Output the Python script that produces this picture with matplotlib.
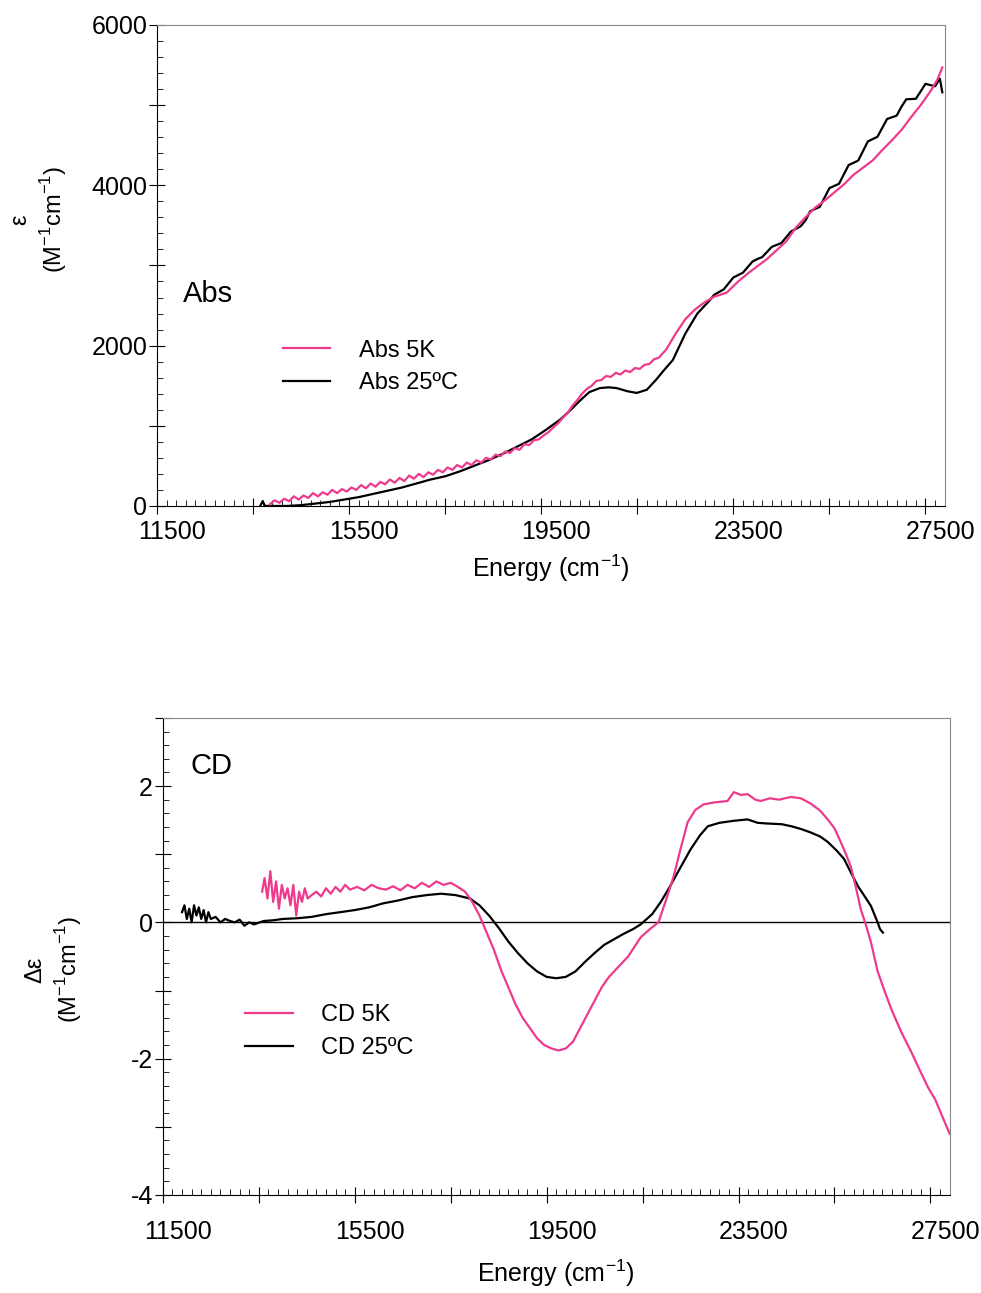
import numpy as np
import matplotlib
matplotlib.use("Agg")
from matplotlib import pyplot as plt
from matplotlib.ticker import FixedLocator, MultipleLocator, FuncFormatter
from matplotlib.transforms import ScaledTranslation

plt.rcParams['font.family'] = ['Liberation Sans', 'DejaVu Sans']

PINK = '#ee3a8c'

# ---- Abs data (energy in cm-1, epsilon in M-1cm-1) ----
abs5k_x = [13850, 13950, 14050, 14150, 14250, 14350, 14450, 14550, 14650, 14750,
           14850, 14950, 15050, 15150, 15250, 15350, 15450, 15550, 15650, 15750,
           15850, 15950, 16050, 16150, 16250, 16350, 16450, 16550, 16650, 16750,
           16850, 16950, 17050, 17150, 17250, 17350, 17450, 17550, 17650, 17750,
           17850, 17950, 18050, 18150, 18250, 18350, 18450, 18550, 18650, 18750,
           18850, 18950, 19050, 19150, 19250, 19350, 19450, 19550, 19650, 19750,
           19850, 19950, 20050, 20150, 20250, 20350, 20450, 20550, 20650, 20750,
           20850, 20950, 21050, 21150, 21250, 21350, 21450, 21550, 21650, 21750,
           21850, 21950, 22100, 22300, 22500, 22700, 22900, 23100, 23360, 23600,
           23800, 24000, 24200, 24400, 24600, 24800, 25000, 25200, 25400, 25600,
           25800, 26000, 26200, 26400, 26600, 26800, 27000, 27200, 27400, 27600,
           27750, 27850]
abs5k_y = [20, 70, 40, 90, 60, 120, 80, 130, 100, 160,
           120, 170, 140, 200, 160, 210, 180, 230, 200, 260,
           220, 280, 240, 300, 270, 330, 290, 350, 310, 380,
           340, 400, 360, 420, 390, 450, 420, 480, 450, 510,
           480, 540, 510, 570, 540, 600, 580, 640, 620, 680,
           660, 720, 700, 770, 760, 820, 830, 880, 920, 980,
           1030, 1100, 1160, 1250, 1320, 1400, 1460, 1500, 1560, 1570,
           1620, 1610, 1660, 1640, 1690, 1670, 1720, 1710, 1760, 1770,
           1830, 1850, 1950, 2150, 2330, 2450, 2540, 2610, 2660, 2800,
           2900, 2990, 3080, 3190, 3300, 3470, 3600, 3720, 3810, 3910,
           4010, 4130, 4220, 4310, 4440, 4560, 4690, 4850, 5000, 5170,
           5320, 5470]

abs25_x = [13650, 13700, 13750, 13900, 14200, 14500, 14800, 15100, 15400, 15700,
           16000, 16300, 16600, 16900, 17200, 17500, 17800, 18100, 18400, 18700,
           19000, 19300, 19600, 19900, 20100, 20300, 20500, 20720, 20900, 21070,
           21300, 21490, 21700, 21900, 22050, 22240, 22500, 22750,
           23000, 23100, 23200, 23300, 23400, 23500, 23600, 23700, 23800, 23900,
           24000, 24100, 24200, 24300, 24400, 24500, 24600, 24700, 24800, 24900,
           25000, 25100, 25200, 25300, 25400, 25500, 25600, 25700, 25800, 25900,
           26000, 26100, 26200, 26300, 26400, 26500, 26600, 26700, 26800, 26900,
           27000, 27100, 27200, 27300, 27400, 27500, 27600, 27700, 27800, 27850]
abs25_y = [0, 60, 0, 0, 0, 10, 30, 50, 80, 110,
           150, 190, 230, 280, 330, 370, 430, 500, 570, 650,
           740, 830, 950, 1080, 1190, 1310, 1420, 1470, 1480, 1470,
           1430, 1410, 1450, 1580, 1690, 1820, 2150, 2400,
           2560, 2634, 2668, 2702, 2776, 2850, 2880, 2910, 2980, 3050,
           3080, 3104, 3168, 3232, 3256, 3280, 3352, 3424, 3456, 3488,
           3560, 3677, 3704, 3731, 3848, 3965, 3992, 4019, 4136, 4253,
           4280, 4309, 4428, 4547, 4576, 4605, 4716, 4827, 4848, 4869,
           4980, 5073, 5076, 5079, 5172, 5265, 5250, 5235, 5330, 5160]

# ---- CD data (energy in cm-1, delta epsilon in M-1cm-1) ----
cd5k_x = [13570, 13620, 13680, 13740, 13800, 13860, 13920, 13980, 14040, 14100,
          14160, 14220, 14280, 14340, 14400, 14460, 14520, 14600, 14700, 14800,
          14900, 15000, 15100, 15200, 15300, 15400, 15550, 15700, 15850, 16000,
          16150, 16300, 16450, 16600, 16750, 16900, 17050, 17200, 17350, 17500,
          17650, 17800, 17950, 18100, 18250, 18400, 18550, 18700, 18850, 19000,
          19150, 19300, 19450, 19600, 19750, 19900, 20050, 20200, 20350, 20500,
          20650, 20800, 21000, 21200, 21460, 21650, 21830, 22000, 22150, 22300,
          22440, 22600, 22770, 23000, 23270, 23400, 23550, 23690, 23850, 23960,
          24150, 24350, 24590, 24800, 25010, 25200, 25360, 25500, 25630, 25740,
          25840, 25950, 26050, 26160, 26260, 26400, 26550, 26700, 26900, 27100,
          27300, 27450, 27600, 27750, 27900]
cd5k_y = [0.45, 0.65, 0.35, 0.75, 0.30, 0.60, 0.20, 0.55, 0.35, 0.50,
          0.25, 0.55, 0.10, 0.45, 0.30, 0.50, 0.35, 0.40, 0.45, 0.38,
          0.50, 0.42, 0.52, 0.45, 0.55, 0.48, 0.52, 0.47, 0.55, 0.50,
          0.48, 0.53, 0.47, 0.55, 0.50, 0.58, 0.52, 0.60, 0.55, 0.58,
          0.52, 0.45, 0.30, 0.10, -0.15, -0.40, -0.70, -0.95, -1.20, -1.40,
          -1.55, -1.70, -1.80, -1.85, -1.88, -1.85, -1.75, -1.55, -1.35, -1.15,
          -0.95, -0.80, -0.65, -0.50, -0.22, -0.10, 0.00, 0.35, 0.68, 1.10,
          1.47, 1.65, 1.73, 1.76, 1.78, 1.91, 1.87, 1.88, 1.80, 1.78,
          1.82, 1.80, 1.84, 1.82, 1.74, 1.64, 1.51, 1.38, 1.18, 1.00,
          0.82, 0.50, 0.19, -0.05, -0.29, -0.72, -1.02, -1.30, -1.62, -1.90,
          -2.20, -2.42, -2.60, -2.85, -3.10]

cd25_x = [11900, 11950, 12000, 12050, 12100, 12150, 12200, 12250, 12300, 12350,
          12400, 12450, 12500, 12600, 12700, 12800, 12900, 13000, 13100, 13200,
          13300, 13400, 13600, 13800, 14000, 14300, 14600, 14900, 15200, 15500,
          15800, 16100, 16400, 16700, 17000, 17300, 17600, 17900, 18100, 18300,
          18500, 18700, 18900, 19100, 19300, 19500, 19700, 19900, 20100, 20300,
          20500, 20700, 20900, 21100, 21300, 21460, 21700, 21880, 22050, 22230,
          22500, 22700, 22860, 23100, 23400, 23690, 23900, 24100, 24400, 24600,
          24800, 25000, 25200, 25360, 25550, 25700, 25850, 25990, 26150, 26260,
          26330, 26400, 26450, 26510]
cd25_y = [0.15, 0.25, 0.05, 0.20, 0.00, 0.25, 0.10, 0.22, 0.05, 0.18,
          0.00, 0.15, 0.05, 0.08, 0.00, 0.05, 0.02, 0.00, 0.04, -0.05,
          0.00, -0.03, 0.02, 0.03, 0.05, 0.06, 0.08, 0.12, 0.15, 0.18,
          0.22, 0.28, 0.32, 0.37, 0.40, 0.42, 0.40, 0.35, 0.25, 0.10,
          -0.08, -0.28, -0.45, -0.60, -0.72, -0.80, -0.82, -0.80, -0.72, -0.58,
          -0.45, -0.33, -0.25, -0.17, -0.10, -0.03, 0.12, 0.30, 0.50, 0.73,
          1.07, 1.28, 1.41, 1.46, 1.49, 1.51, 1.46, 1.45, 1.44, 1.41,
          1.37, 1.32, 1.26, 1.18, 1.05, 0.93, 0.72, 0.53, 0.36, 0.24,
          0.12, 0.00, -0.10, -0.15]


def style_axis(ax, ymajor, ylab_step, yminor, ylo, yhi, xpad):
    ax.xaxis.set_major_locator(FixedLocator(np.arange(11500, 28000, 2000)))
    ax.xaxis.set_minor_locator(FixedLocator(np.arange(11500, 28000, 200)))
    ax.yaxis.set_major_locator(FixedLocator(np.arange(ylo, yhi + ymajor / 2, ymajor)))
    ax.yaxis.set_minor_locator(MultipleLocator(yminor))
    ax.xaxis.set_major_formatter(FuncFormatter(
        lambda v, p: '%d' % v if round(v - 11500) % 4000 == 0 else ''))
    ax.yaxis.set_major_formatter(FuncFormatter(
        lambda v, p: '%d' % round(v) if round(v * 10) % round(ylab_step * 10) == 0 else ''))
    ax.tick_params(which='major', direction='inout', length=12, width=0.8, labelsize=18)
    ax.tick_params(which='minor', direction='in', length=4, width=0.6)
    ax.tick_params(axis='y', which='major', pad=1)
    ax.tick_params(axis='x', which='major', pad=xpad)
    for s in ['top', 'right']:
        ax.spines[s].set_color('#888888')


def shift_xlabels(ax, px):
    # x tick labels sit a little to the right of their ticks in the original
    shift = ScaledTranslation(px / 100, 0, ax.figure.dpi_scale_trans)
    for t in ax.xaxis.get_major_ticks():
        t.label1.set_transform(t.label1.get_transform() + shift)


fig = plt.figure(figsize=(9.81, 12.93), dpi=100)

# top: absorption
ax1 = fig.add_axes([0.160, 0.6087, 0.803, 0.372])
ax1.plot(abs25_x, abs25_y, color='black', lw=1.6, label='Abs 25ºC', zorder=2)
ax1.plot(abs5k_x, abs5k_y, color=PINK, lw=1.6, label='Abs 5K', zorder=3)
ax1.set_xlim(11500, 27900)
ax1.set_ylim(0, 6000)
style_axis(ax1, 1000, 2000, 200, 0, 6000, 4)
ax1.set_xlabel('Energy (cm$^{\\mathregular{-1}}$)', fontsize=18, labelpad=6)
ax1.text(0.033, 0.44, 'Abs', transform=ax1.transAxes, fontsize=21, va='center')
h, l = ax1.get_legend_handles_labels()
ax1.legend(h[::-1], l[::-1], loc='upper left', bbox_to_anchor=(0.133, 0.39),
           frameon=False, fontsize=17, handlelength=2.0, handletextpad=1.2,
           labelspacing=0.45)
fig.text(0.040, 0.83, 'ε\n(M$^{\\mathregular{-1}}$cm$^{\\mathregular{-1}}$)', rotation=90,
         ha='center', va='center', fontsize=17, linespacing=1.3, multialignment='center')

# bottom: CD
ax2 = fig.add_axes([0.166, 0.0758, 0.802, 0.369])
ax2.axhline(0, color='black', lw=1.0, zorder=1)
ax2.plot(cd25_x, cd25_y, color='black', lw=1.6, label='CD 25ºC', zorder=2)
ax2.plot(cd5k_x, cd5k_y, color=PINK, lw=1.6, label='CD 5K', zorder=3)
ax2.set_xlim(11500, 27900)
ax2.set_ylim(-4, 3)
style_axis(ax2, 1, 2, 0.2, -4, 3, 12)
ax2.set_xlabel('Energy (cm$^{\\mathregular{-1}}$)', fontsize=18, labelpad=10)
ax2.text(0.035, 0.9, 'CD', transform=ax2.transAxes, fontsize=21, va='center')
h, l = ax2.get_legend_handles_labels()
ax2.legend(h[::-1], l[::-1], loc='upper left', bbox_to_anchor=(0.078, 0.444),
           frameon=False, fontsize=17, handlelength=2.0, handletextpad=1.2,
           labelspacing=0.45)
fig.text(0.055, 0.25, 'Δε\n(M$^{\\mathregular{-1}}$cm$^{\\mathregular{-1}}$)', rotation=90,
         ha='center', va='center', fontsize=17, linespacing=1.3, multialignment='center')

shift_xlabels(ax1, 15)
shift_xlabels(ax2, 15)

fig.savefig('out.png', dpi=100)
